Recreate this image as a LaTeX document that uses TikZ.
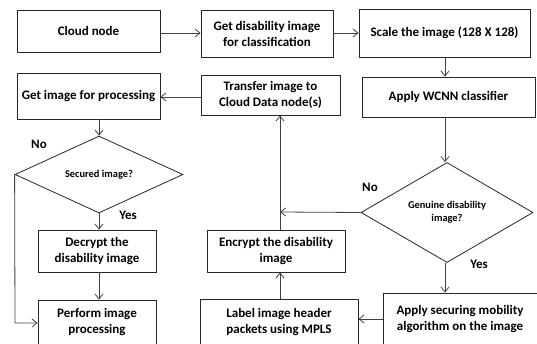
\documentclass[tikz,border=0pt]{standalone}
\usepackage{fontspec}
\setmainfont{Carlito}
\usetikzlibrary{shapes.geometric,arrows.meta}
\begin{document}
\begin{tikzpicture}[x=1pt,y=-1pt,
  box/.style={draw=black!85,line width=0.8pt,align=center,inner sep=1pt,font=\bfseries\fontsize{13}{16}\selectfont},
  dia/.style={draw=black!85,line width=0.8pt,diamond,align=center,inner sep=0pt,font=\bfseries\fontsize{10.4}{13}\selectfont},
  arr/.style={draw=black!75,line width=0.8pt,-{Straight Barb[length=5pt,width=8pt]}},
  lbl/.style={font=\bfseries\fontsize{13}{15}\selectfont}]
\useasboundingbox (0,0) rectangle (537,343);
\node[box,minimum width=143pt,minimum height=42pt] (cloud) at (88.5,31) {Cloud node};
\node[box,minimum width=132pt,minimum height=47pt] (getdis) at (267,33.5) {Get disability image\\for classification};
\node[box,minimum width=171pt,minimum height=48pt] (scale) at (444.5,33) {Scale the image (128 X 128)};
\node[box,minimum width=173pt,minimum height=40pt] (wcnn) at (448.5,97) {Apply WCNN classifier};
\node[box,minimum width=139pt,minimum height=40pt] (transfer) at (270.5,95) {Transfer image to\\Cloud Data node(s)};
\node[box,minimum width=143pt,minimum height=46pt] (getimg) at (88.5,96) {Get image for processing};
\node[dia,minimum width=168pt,minimum height=59pt] (secured) at (99,174.5) {Secured image?};
\node[box,minimum width=118pt,minimum height=42pt] (decrypt) at (97,251) {Decrypt the\\disability image};
\node[box,minimum width=118pt,minimum height=45pt] (perform) at (97,322.5) {Perform image\\processing};
\node[box,minimum width=138pt,minimum height=42pt] (encrypt) at (276,251) {Encrypt the disability\\image};
\node[box,minimum width=158pt,minimum height=47pt] (label) at (279,322.5) {Label image header\\packets using MPLS};
\node[dia,minimum width=172pt,minimum height=75pt] (genuine) at (447,212.5) {Genuine disability\\image?};
\node[box,minimum width=154pt,minimum height=52pt] (secure) at (460,319) {Apply securing mobility\\algorithm on the image};
\coordinate (v) at (280,212);
\coordinate (c) at (15,323);
\node[lbl] (no1) at (39,144) {No};
\node[lbl] (yes1) at (128,215) {Yes};
\node[lbl] (no2) at (370,187) {No};
\node[lbl] (yes2) at (479,264) {Yes};
\draw[arr] (cloud.east |- 0,33) -- (getdis.west |- 0,33);
\draw[arr] (getdis.east |- 0,33) -- (scale.west |- 0,33);
\draw[arr] (scale.south -| 445,0) -- (wcnn.north -| 445,0);
\draw[arr] (wcnn.south -| 445,0) -- (genuine.north -| 445,0);
\draw[arr] (genuine.south -| 445,0) -- (secure.north -| 445,0);
\draw[arr] (genuine.west) -- (v);
\draw[arr] (encrypt.north -| v) -- (transfer.south -| v);
\draw[arr] (label.north -| v) -- (encrypt.south -| v);
\draw[arr] (secure.west) -- (label.east |- secure.west);
\draw[arr] (transfer.west |- 0,97) -- (getimg.east |- 0,97);
\draw[arr] (getimg.south -| secured.north) -- (secured.north);
\draw[arr] (secured.south -| 99,0) -- (decrypt.north -| 99,0);
\draw[arr] (decrypt.south -| 99,0) -- (perform.north -| 99,0);
\draw[arr] (secured.west) -- (c) -- (perform.west |- c);
\end{tikzpicture}
\end{document}
